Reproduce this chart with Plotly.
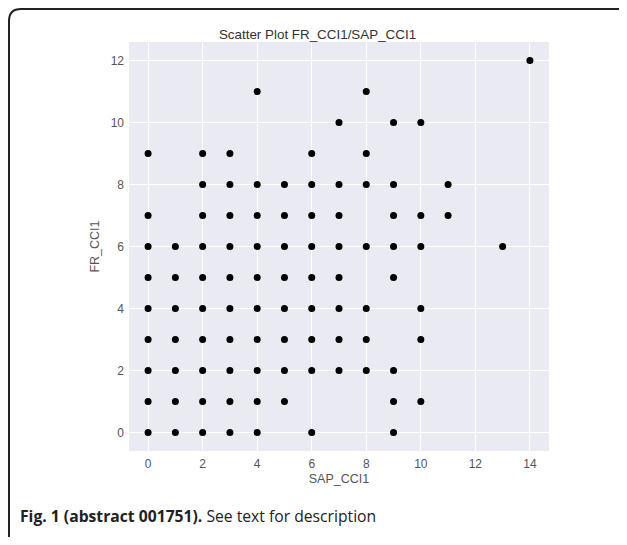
import plotly.graph_objects as go

# Data: SAP_CCI1 (x) vs FR_CCI1 (y), one list of x values per FR_CCI1 row
fr_levels = [12, 11, 10, 9, 8, 7, 6, 5, 4, 3, 2, 1, 0]
sap_by_fr = [
    [14],
    [4, 8],
    [7, 9, 10],
    [0, 2, 3, 6, 8],
    [2, 3, 4, 5, 6, 7, 8, 9, 11],
    [0, 2, 3, 4, 5, 6, 7, 9, 10, 11],
    [0, 1, 2, 3, 4, 5, 6, 7, 8, 9, 10, 13],
    [0, 1, 2, 3, 4, 5, 6, 7, 9],
    [0, 1, 2, 3, 4, 5, 6, 7, 8, 10],
    [0, 1, 2, 3, 4, 5, 6, 7, 8, 10],
    [0, 1, 2, 3, 4, 5, 6, 7, 8, 9],
    [0, 1, 2, 3, 4, 5, 9, 10],
    [0, 1, 2, 3, 4, 6, 9],
]
x_ticks = [0, 2, 4, 6, 8, 10, 12, 14]
y_ticks = [0, 2, 4, 6, 8, 10, 12]

xs, ys = [], []
for fr, row in zip(fr_levels, sap_by_fr):
    for s in row:
        xs.append(s)
        ys.append(fr)

# page has an 8px body margin; positions below are figure pixels
W, H = 619, 529
L, R, T, B = 121, 541, 34, 443


def px(x):
    return (x - L) / (R - L)


def py(y):
    return (B - y) / (B - T)


fig = go.Figure()
fig.add_trace(go.Scatter(
    x=xs, y=ys, mode="markers",
    marker=dict(color="black", size=7, line=dict(width=0)),
    showlegend=False, hoverinfo="x+y",
))

# Rounded outer frame (right side falls just outside the page)
x0, x1, y0, y1, r = 1, 624, 1, 560, 12
path = (
    f"M {px(x0)} {py(y1)} L {px(x0)} {py(y0 + r)} "
    f"Q {px(x0)} {py(y0)} {px(x0 + r)} {py(y0)} "
    f"L {px(x1 - r)} {py(y0)} Q {px(x1)} {py(y0)} {px(x1)} {py(y0 + r)} "
    f"L {px(x1)} {py(y1)}"
)
fig.add_shape(type="path", path=path, xref="paper", yref="paper",
              line=dict(color="#222222", width=2), layer="above")

fig.add_annotation(
    text="<b>Fig. 1 (abstract 001751).</b> See text for description",
    xref="paper", yref="paper", x=px(10), y=py(508),
    xanchor="left", yanchor="middle", showarrow=False,
    font=dict(family="Open Sans", size=15.7, color="#222222"),
)

fig.update_layout(
    width=W, height=H,
    margin=dict(l=L, r=W - R, t=T, b=H - B),
    paper_bgcolor="white",
    plot_bgcolor="#EAEAF2",
    font=dict(family="Liberation Sans, Arial", size=12, color="#555555"),
    title=dict(text="Scatter Plot FR_CCI1/SAP_CCI1", x=px(331), xanchor="center",
               y=1 - 26 / H, yanchor="middle",
               font=dict(family="Liberation Sans, Arial", size=13.4, color="#333333")),
    xaxis=dict(
        range=[-0.7, 14.7], tickvals=x_ticks, showgrid=True, gridcolor="white",
        gridwidth=1, zeroline=False, showline=False, ticks="",
        title=dict(text="SAP_CCI1", standoff=4, font=dict(size=12.5, color="#555555")),
        ticklabelstandoff=4,
    ),
    yaxis=dict(
        range=[-0.6, 12.6], tickvals=y_ticks, showgrid=True, gridcolor="white",
        gridwidth=1, zeroline=False, showline=False, ticks="",
        title=dict(text="FR_CCI1", standoff=8, font=dict(size=12.5, color="#555555")),
        ticklabelstandoff=4,
    ),
)

fig.write_html("out.html")
